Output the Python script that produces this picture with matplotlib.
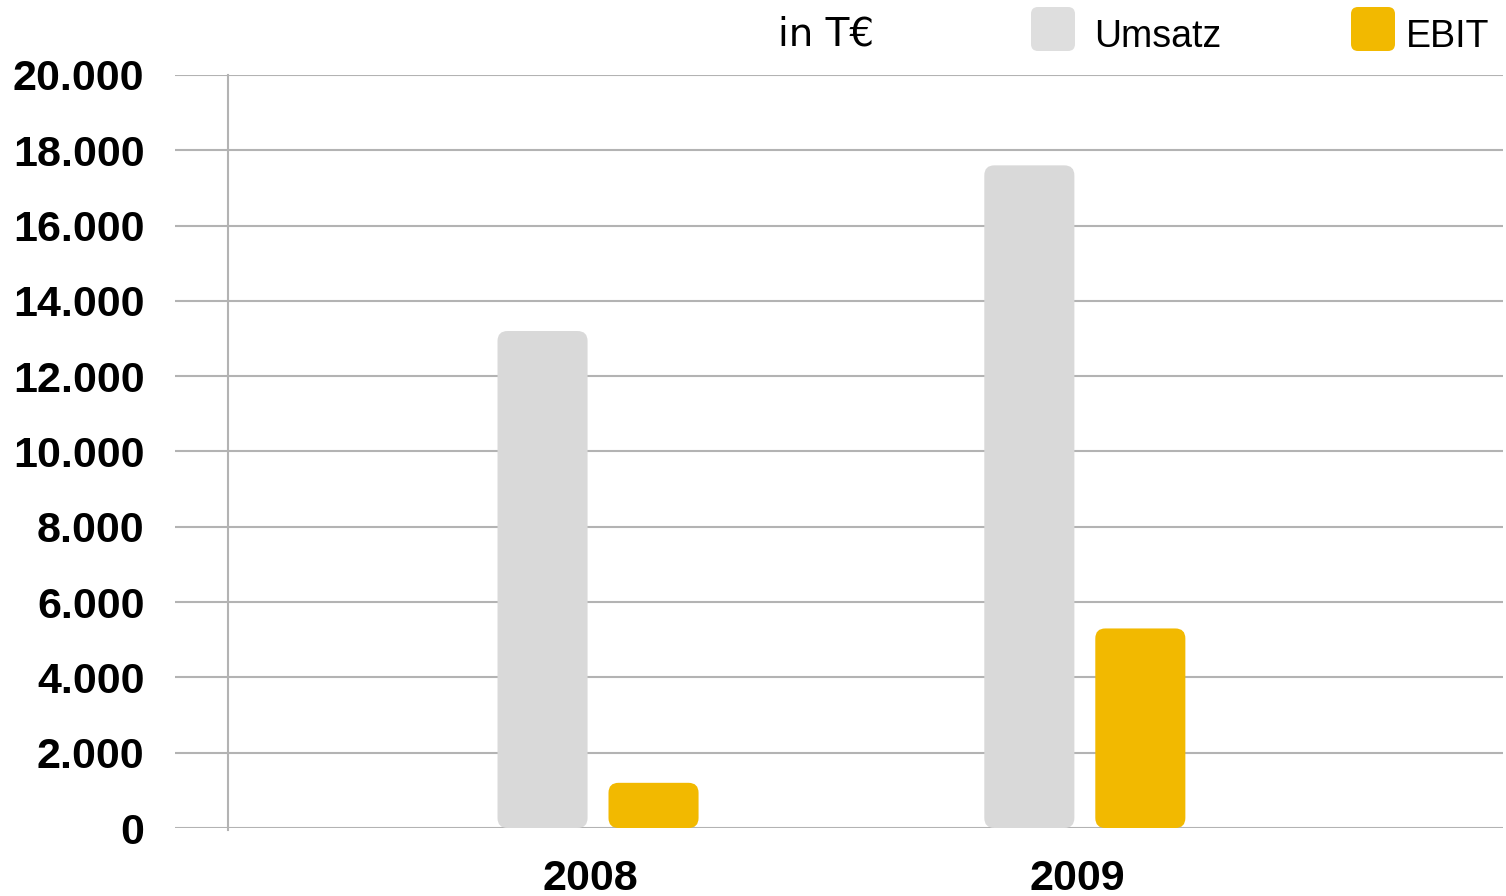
import matplotlib.pyplot as plt
from matplotlib.patches import FancyBboxPatch

plt.rcParams['font.family'] = ['Liberation Sans', 'DejaVu Sans']

# data (in T€)
years = ['2008', '2009']
umsatz = [13200, 17600]
ebit = [1200, 5300]
yticks = [0, 2000, 4000, 6000, 8000, 10000, 12000, 14000, 16000, 18000, 20000]
ytick_labels = ['0', '2.000', '4.000', '6.000', '8.000', '10.000', '12.000',
                '14.000', '16.000', '18.000', '20.000']

c_umsatz = '#d9d9d9'
c_ebit = '#f2b900'
grid_c = '#b3b3b3'

W, H = 1506, 896
fig = plt.figure(figsize=(W / 100, H / 100), dpi=100)
ax = fig.add_axes([175 / W, 1 - 828 / H, (1503 - 175) / W, (828 - 75) / H])

ax.set_xlim(-0.869, 1.859)
ax.set_ylim(0, 20000)

# gridlines
for v in yticks:
    ax.axhline(v, color=grid_c, lw=1.5, zorder=1)
# vertical axis line
ax.plot([-0.760, -0.760], [-60, 20000], color=grid_c, lw=1.5, zorder=1, clip_on=False)

width = 0.185
off = 0.114
ux = 10 / 487
uy = 10 / 753 * 20000

def rbar(x, h, color):
    p = FancyBboxPatch((x - width / 2, 0), width, h,
                       boxstyle='round,pad=0,rounding_size=%f' % ux,
                       mutation_aspect=uy / ux, fc=color, ec='none', zorder=3)
    ax.add_patch(p)

for i in range(len(years)):
    rbar(i - off, umsatz[i], c_umsatz)
    rbar(i + off, ebit[i], c_ebit)

for s in ax.spines.values():
    s.set_visible(False)

ax.set_yticks(yticks)
ax.set_yticklabels(ytick_labels, fontsize=31, fontweight='bold')
ax.set_xticks([i - 0.015 for i in range(len(years))])
ax.set_xticklabels(years, fontsize=31, fontweight='bold')
ax.tick_params(axis='y', length=0, pad=22)
ax.tick_params(axis='x', length=0, pad=22)

# header / legend
fig.text(778 / W, 1 - 45 / H, 'in T€', fontsize=28, family='DejaVu Sans',
         ha='left', va='baseline')
for bx, tx, label, col in [(1031, 1094, 'Umsatz', '#dedede'), (1351, 1406, 'EBIT', c_ebit)]:
    fig.patches.append(FancyBboxPatch((bx / W, 1 - 51 / H), 44 / W, 44 / H,
                                      boxstyle='round,pad=0,rounding_size=%f' % (7 / W),
                                      mutation_aspect=W / H, fc=col, ec='none',
                                      transform=fig.transFigure))
    fig.text(tx / W, 1 - 47 / H, label, fontsize=27, ha='left', va='baseline')

fig.savefig('out.png', dpi=100)
